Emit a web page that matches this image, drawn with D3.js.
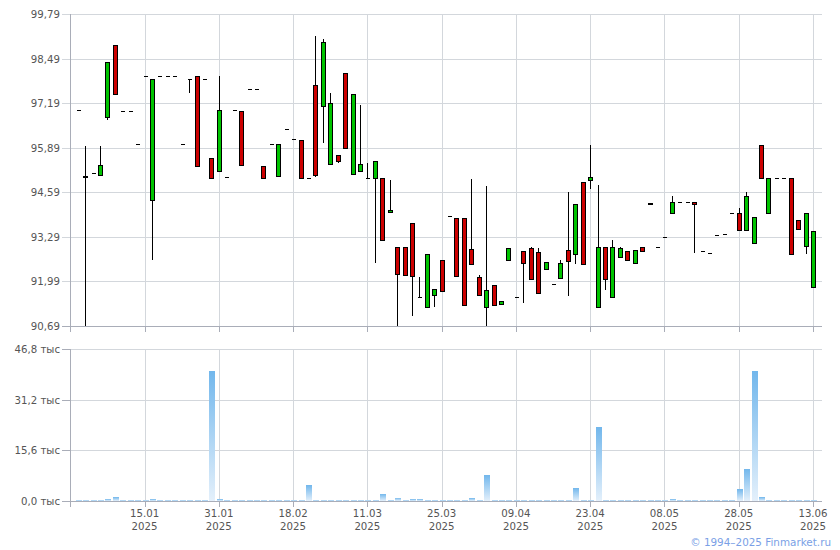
<!DOCTYPE html>
<html><head><meta charset="utf-8">
<script src="https://cdn.jsdelivr.net/npm/d3@7"></script>
<style>
body{margin:0;background:#fff;}
svg text{font-family:"DejaVu Sans",Verdana,sans-serif;font-size:10.2px;fill:#555;}
</style></head>
<body><svg id="c" width="840" height="550"></svg>
<script>
const open = [97.00,95.07,95.16,95.09,96.80,98.90,96.98,96.98,96.01,97.99,
94.37,97.99,97.99,97.99,96.01,97.91,97.99,97.91,95.60,95.22,
95.05,97.00,96.97,97.61,97.61,95.36,96.01,95.09,96.43,96.16,
96.12,95.01,97.73,97.12,95.42,95.68,98.08,95.13,95.22,95.02,
95.01,95.01,94.02,92.99,92.99,93.70,91.54,91.25,91.60,92.62,
93.89,93.85,93.85,92.94,92.12,91.25,91.89,91.32,92.62,91.54,
92.88,92.96,92.85,92.36,91.92,92.09,92.91,92.79,94.90,94.96,
91.25,92.99,91.54,92.70,92.88,92.53,92.99,94.28,92.99,93.29,
93.99,94.31,94.31,94.31,92.88,92.82,93.35,93.38,93.99,93.99,
93.49,93.12,95.98,93.99,95.01,95.01,95.01,93.79,93.03,91.83];
const high = [97.00,95.94,95.16,95.94,98.40,98.90,96.98,96.98,96.01,97.99,
97.91,97.99,97.99,97.99,96.01,97.91,97.99,97.91,95.60,97.98,
95.05,97.00,96.97,97.61,97.61,95.36,96.01,96.01,96.43,96.16,
96.12,95.01,99.17,99.07,97.50,95.68,98.08,97.47,97.15,95.45,
95.50,95.01,94.95,92.99,92.99,93.70,92.11,92.79,91.77,92.62,
93.89,93.85,93.85,94.98,92.18,94.78,91.89,91.41,92.96,91.54,
92.88,92.99,92.96,92.56,91.92,92.62,94.60,94.25,94.90,95.98,
94.81,92.99,93.20,92.99,92.88,92.91,92.99,94.28,92.99,93.29,
94.49,94.31,94.31,94.31,92.88,92.82,93.35,93.38,93.99,94.14,
94.61,93.88,95.98,95.01,95.01,95.01,95.01,93.79,93.99,93.47];
const low = [96.98,90.70,95.16,95.09,96.71,97.47,96.98,96.98,96.01,97.99,
92.61,97.99,97.99,97.99,96.01,97.50,95.36,97.91,95.01,95.22,
95.05,97.00,95.39,97.61,97.61,95.01,96.01,95.09,96.43,96.16,
95.01,95.01,95.05,96.03,95.42,95.44,95.89,95.13,95.22,95.02,
92.53,93.20,94.02,90.70,92.18,90.98,91.54,91.25,91.25,91.71,
93.89,92.17,91.32,92.50,91.59,90.70,91.26,91.32,92.62,91.54,
91.35,92.06,91.65,92.36,91.92,92.09,91.56,92.50,92.50,94.68,
91.25,91.74,91.54,92.70,92.62,92.53,92.88,94.25,92.99,93.29,
93.99,94.31,94.31,92.82,92.88,92.80,93.35,93.38,93.99,93.49,
93.49,93.12,95.01,93.99,95.01,95.01,92.79,93.49,92.79,91.83];
const close = [97.00,95.05,95.16,95.39,98.40,97.47,96.98,96.98,96.01,97.99,
97.91,97.99,97.99,97.99,96.01,97.91,95.36,97.91,95.01,97.00,
95.05,97.00,95.39,97.61,97.61,95.01,96.01,96.01,96.43,96.16,
95.01,95.01,95.09,98.99,97.20,95.50,95.89,97.47,95.42,95.02,
95.50,93.20,94.08,92.21,92.18,92.15,91.54,92.79,91.77,91.71,
93.89,92.17,91.32,92.50,91.59,91.74,91.32,91.41,92.96,91.54,
92.52,92.06,91.65,92.56,91.92,92.53,92.59,94.25,92.50,95.04,
92.99,92.06,92.99,92.96,92.62,92.91,92.88,94.25,92.99,93.29,
94.31,94.31,94.31,94.25,92.88,92.82,93.35,93.38,93.99,93.49,
94.49,93.88,95.01,95.01,95.01,95.01,92.79,93.52,93.99,93.47];
// volume, thousands
const volume = [0.35,0.35,0.35,0.35,0.6,1.2,0.35,0.35,0.35,0.35,
0.6,0.35,0.35,0.35,0.35,0.35,0.35,0.35,40.1,0.6,
0.35,0.35,0.35,0.35,0.35,0.35,0.35,0.35,0.35,0.35,
0.35,4.9,0.35,0.35,0.35,0.35,0.35,0.35,0.35,0.35,
0.35,2.2,0.35,1.0,0.35,0.6,0.6,0.35,0.35,0.35,
0.35,0.35,0.35,0.9,0.35,8.0,0.35,0.35,0.35,0.35,
0.35,0.35,0.35,0.35,0.35,0.35,0.35,4.0,0.35,0.35,
22.8,0.35,0.35,0.35,0.35,0.35,0.35,0.35,0.35,0.35,
0.6,0.35,0.35,0.35,0.35,0.35,0.35,0.35,0.35,3.7,
9.9,40.1,1.2,0.35,0.35,0.35,0.35,0.35,0.35,0.35];
const tickIndex = [9,19,29,39,49,59,69,79,89,99];
const tickLabels = ["15.01","31.01","18.02","11.03","25.03","09.04","23.04","08.05","28.05","13.06"];
const tickYear = "2025";
const priceTicks = [99.79,98.49,97.19,95.89,94.59,93.29,91.99,90.69];
const volTicks = [0,15.6,31.2,46.8];

const svg = d3.select("#c");
const L = 70.5, R = 822;
const x = d3.scaleLinear().domain([0, 99]).range([77.7, 813]);
const y = d3.scaleLinear().domain([90.69, 99.79]).range([326, 14.3]);
const yv = d3.scaleLinear().domain([0, 46.8]).range([501, 349.3]);
const fmt = v => v.toFixed(2).replace(".", ",");
const fmtV = v => v.toFixed(1).replace(".", ",") + " тыс";
const grid = "#d3d7dc", axisC = "#a9adb8";
const px = v => Math.round(v) + 0.5;

// ---------- price panel ----------
const gP = svg.append("g");
gP.selectAll("line.hg").data(priceTicks).join("line")
  .attr("x1", 62).attr("x2", R).attr("y1", d => px(y(d))).attr("y2", d => px(y(d)))
  .attr("stroke", (d,i) => i === priceTicks.length-1 ? axisC : grid);
gP.selectAll("line.vg").data(tickIndex).join("line")
  .attr("x1", d => px(x(d))).attr("x2", d => px(x(d)))
  .attr("y1", y(99.79)).attr("y2", 332).attr("stroke", grid);
gP.selectAll("line.vt").data(tickIndex).join("line")
  .attr("x1", d => px(x(d))).attr("x2", d => px(x(d)))
  .attr("y1", 326).attr("y2", 332).attr("stroke", axisC);
gP.append("line").attr("x1", L).attr("x2", L).attr("y1", 14).attr("y2", 332).attr("stroke", axisC);
gP.selectAll("text").data(priceTicks).join("text")
  .attr("x", 60).attr("y", d => y(d)).attr("dy", "0.36em").attr("text-anchor", "end").text(fmt);

// candles
const idx = d3.range(open.length);
const gc = gP.append("g").attr("shape-rendering", "crispEdges");
gc.selectAll("line.w").data(idx.filter(i => high[i] - low[i] > 0.001)).join("line")
  .attr("x1", i => px(x(i))).attr("x2", i => px(x(i)))
  .attr("y1", i => Math.round(y(high[i]))).attr("y2", i => Math.round(y(low[i])))
  .attr("stroke", "#000");
gc.selectAll("line.d").data(idx.filter(i => Math.abs(open[i] - close[i]) < 0.001)).join("line")
  .attr("x1", i => Math.round(x(i)) - 1.5).attr("x2", i => Math.round(x(i)) + 2.5)
  .attr("y1", i => px(y(open[i]))).attr("y2", i => px(y(open[i])))
  .attr("stroke", "#000");
gc.selectAll("rect.b").data(idx.filter(i => Math.abs(open[i] - close[i]) >= 0.001)).join("rect")
  .attr("x", i => Math.round(x(i)) - 1.5).attr("width", 4)
  .attr("y", i => px(y(Math.max(open[i], close[i]))))
  .attr("height", i => Math.max(1, Math.round(y(Math.min(open[i], close[i])) - y(Math.max(open[i], close[i])))))
  .attr("fill", i => close[i] > open[i] ? "#00c400" : "#cc0000")
  .attr("stroke", "#000").attr("stroke-width", 1);

// ---------- volume panel ----------
const defs = svg.append("defs");
const lg = defs.append("linearGradient").attr("id", "vg").attr("x1", 0).attr("y1", 0).attr("x2", 0).attr("y2", 1);
lg.append("stop").attr("offset", "0%").attr("stop-color", "#72b7ec");
lg.append("stop").attr("offset", "100%").attr("stop-color", "#e4f0fb");

const gV = svg.append("g");
gV.selectAll("line.hg").data(volTicks).join("line")
  .attr("x1", L).attr("x2", R).attr("y1", d => px(yv(d))).attr("y2", d => px(yv(d)))
  .attr("stroke", (d,i) => i === 0 ? axisC : grid);
gV.selectAll("line.ht").data(volTicks).join("line")
  .attr("x1", 62).attr("x2", L).attr("y1", d => px(yv(d))).attr("y2", d => px(yv(d)))
  .attr("stroke", axisC);
gV.selectAll("line.vg").data(tickIndex).join("line")
  .attr("x1", d => px(x(d))).attr("x2", d => px(x(d)))
  .attr("y1", yv(46.8)).attr("y2", 501).attr("stroke", grid);
gV.append("g").attr("shape-rendering", "crispEdges").selectAll("rect").data(idx).join("rect")
  .attr("x", i => Math.round(x(i)) - 2.5).attr("width", 6)
  .attr("y", i => yv(volume[i])).attr("height", i => yv(0) - yv(volume[i]))
  .attr("fill", "url(#vg)");
gV.selectAll("line.vt").data(tickIndex).join("line")
  .attr("x1", d => px(x(d))).attr("x2", d => px(x(d)))
  .attr("y1", 501).attr("y2", 507).attr("stroke", axisC);
gV.append("line").attr("x1", L).attr("x2", L).attr("y1", 349).attr("y2", 507).attr("stroke", axisC);
gV.selectAll("text.yl").data(volTicks).join("text")
  .attr("x", 60).attr("y", d => yv(d)).attr("dy", "0.36em").attr("text-anchor", "end").text(fmtV);
const xl = gV.selectAll("text.xl").data(tickIndex).join("text")
  .attr("x", d => x(d)).attr("y", 517).attr("text-anchor", "middle");
xl.append("tspan").attr("x", d => x(d)).text((d,i) => tickLabels[i]);
xl.append("tspan").attr("x", d => x(d)).attr("dy", 13).text(tickYear);

svg.append("text").attr("x", 831).attr("y", 546).attr("text-anchor", "end")
  .style("fill", "#7a9fe6").style("font-size", "10.4px").text("© 1994–2025 Finmarket.ru");
</script></body></html>
